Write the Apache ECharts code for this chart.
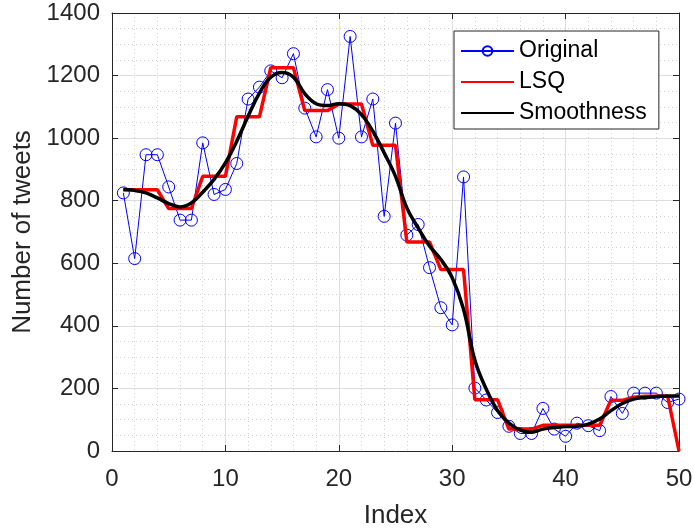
<!DOCTYPE html>
<html>
<head>
<meta charset="utf-8">
<script src="https://cdn.jsdelivr.net/npm/echarts@6/dist/echarts.min.js"></script>
<style>
  html, body { margin: 0; padding: 0; background: #fff; }
  #chart { width: 694px; height: 531px; }
</style>
</head>
<body>
<div id="chart"></div>
<script>
// 横轴序号
var indexes = [1, 2, 3, 4, 5, 6, 7, 8, 9, 10,
  11, 12, 13, 14, 15, 16, 17, 18, 19, 20,
  21, 22, 23, 24, 25, 26, 27, 28, 29, 30,
  31, 32, 33, 34, 35, 36, 37, 38, 39, 40,
  41, 42, 43, 44, 45, 46, 47, 48, 49, 50];

// 原始数据
var original = [825, 615, 947, 947, 844, 738, 738, 985, 820, 836,
  919, 1125, 1163, 1215, 1193, 1270, 1096, 1004, 1155, 1000,
  1325, 1004, 1125, 750, 1048, 690, 724, 586, 458, 403,
  876, 201, 163, 123, 79, 56, 56, 136, 70, 47,
  89, 81, 65, 174, 120, 185, 185, 185, 155, 166];

// 最小二乘分段拟合
var lsq = [835, 835, 835, 835, 775, 775, 775, 878, 878, 878,
  1068, 1068, 1068, 1225, 1225, 1225, 1088, 1088, 1088, 1109,
  1109, 1109, 977, 977, 977, 668, 668, 668, 580, 580,
  580, 164, 164, 164, 70, 70, 70, 82, 82, 82,
  82, 82, 82, 162, 162, 172, 175, 175, 175, 0];

// 平滑曲线
var smooth = [836, 833, 825, 809, 791, 780, 793, 827, 868, 921,
  990, 1070, 1144, 1195, 1210, 1195, 1142, 1110, 1104, 1110,
  1104, 1075, 1022, 953, 878, 777, 713, 655, 612, 554,
  453, 290, 198, 129, 89, 67, 60, 70, 75, 78,
  79, 86, 102, 129, 152, 166, 171, 174, 176, 176];

var xTicks = [0, 10, 20, 30, 40, 50];
var yTicks = [0, 200, 400, 600, 800, 1000, 1200, 1400];

function pairs(ys) {
  return indexes.map(function (x, i) { return [x, ys[i]]; });
}

var textColor = '#262626';
var font = 'Liberation Sans, Arial, Helvetica, sans-serif';

function baseAxis(ticks, minorN, show) {
  return {
    type: 'value',
    min: ticks[0],
    max: ticks[ticks.length - 1],
    interval: ticks[1] - ticks[0],
    axisLine: { show: true, onZero: false, lineStyle: { color: textColor, width: 1 } },
    axisTick: { show: true, inside: true, length: 6, lineStyle: { color: textColor } },
    axisLabel: {
      show: show, color: textColor, fontSize: 24, fontFamily: font,
      formatter: function (v) { return String(v); }
    },
    splitLine: { show: show, lineStyle: { color: '#dedede', width: 1 } },
    minorTick: { show: false, splitNumber: minorN },
    minorSplitLine: { show: show, lineStyle: { color: '#d0d0d0', type: [1, 3], width: 1 } }
  };
}

var xBottom = baseAxis(xTicks, 5, true);
xBottom.position = 'bottom';
xBottom.name = 'Index';
xBottom.nameLocation = 'middle';
xBottom.nameGap = 52;
xBottom.nameTextStyle = { color: textColor, fontSize: 26, fontFamily: font };
xBottom.axisLabel.margin = 16;

var xTop = baseAxis(xTicks, 5, false);
xTop.position = 'top';

var yLeft = baseAxis(yTicks, 4, true);
yLeft.position = 'left';
yLeft.name = 'Number of tweets';
yLeft.nameLocation = 'middle';
yLeft.nameGap = 76;
yLeft.nameTextStyle = { color: textColor, fontSize: 26, fontFamily: font };
yLeft.axisLabel.margin = 12;

var yRight = baseAxis(yTicks, 4, false);
yRight.position = 'right';

var myChart = echarts.init(document.getElementById('chart'));
myChart.setOption({
  animation: false,
  backgroundColor: '#fff',
  grid: { left: 112, top: 13, right: 15, bottom: 80, containLabel: false, outerBoundsMode: 'none' },
  legend: {
    orient: 'vertical',
    left: 454,
    top: 31,
    padding: [8, 12, 4, 6],
    itemWidth: 53,
    itemHeight: 12,
    itemGap: 7,
    backgroundColor: '#fff',
    borderColor: textColor,
    borderWidth: 1,
    borderRadius: 0,
    textStyle: { color: '#000', fontSize: 23, fontFamily: font, lineHeight: 24 },
    data: [
      'Original',
      { name: 'LSQ', itemStyle: { opacity: 0 } },
      { name: 'Smoothness', itemStyle: { opacity: 0 } }
    ]
  },
  xAxis: [xBottom, xTop],
  yAxis: [yLeft, yRight],
  series: [
    {
      name: 'Original',
      type: 'line',
      data: pairs(original),
      symbol: 'circle',
      symbolSize: 12,
      lineStyle: { color: '#0000ff', width: 1 },
      itemStyle: { color: 'rgba(0,0,0,0)', borderColor: '#0000ff', borderWidth: 1 },
      z: 2
    },
    {
      name: 'LSQ',
      type: 'line',
      data: pairs(lsq),
      symbol: 'none',
      lineStyle: { color: '#ff0000', width: 3.5 },
      itemStyle: { color: '#ff0000' },
      z: 3
    },
    {
      name: 'Smoothness',
      type: 'line',
      data: pairs(smooth),
      symbol: 'none',
      smooth: 0.4,
      lineStyle: { color: '#000000', width: 3.5 },
      itemStyle: { color: '#000000' },
      z: 4
    }
  ]
});
</script>
</body>
</html>
